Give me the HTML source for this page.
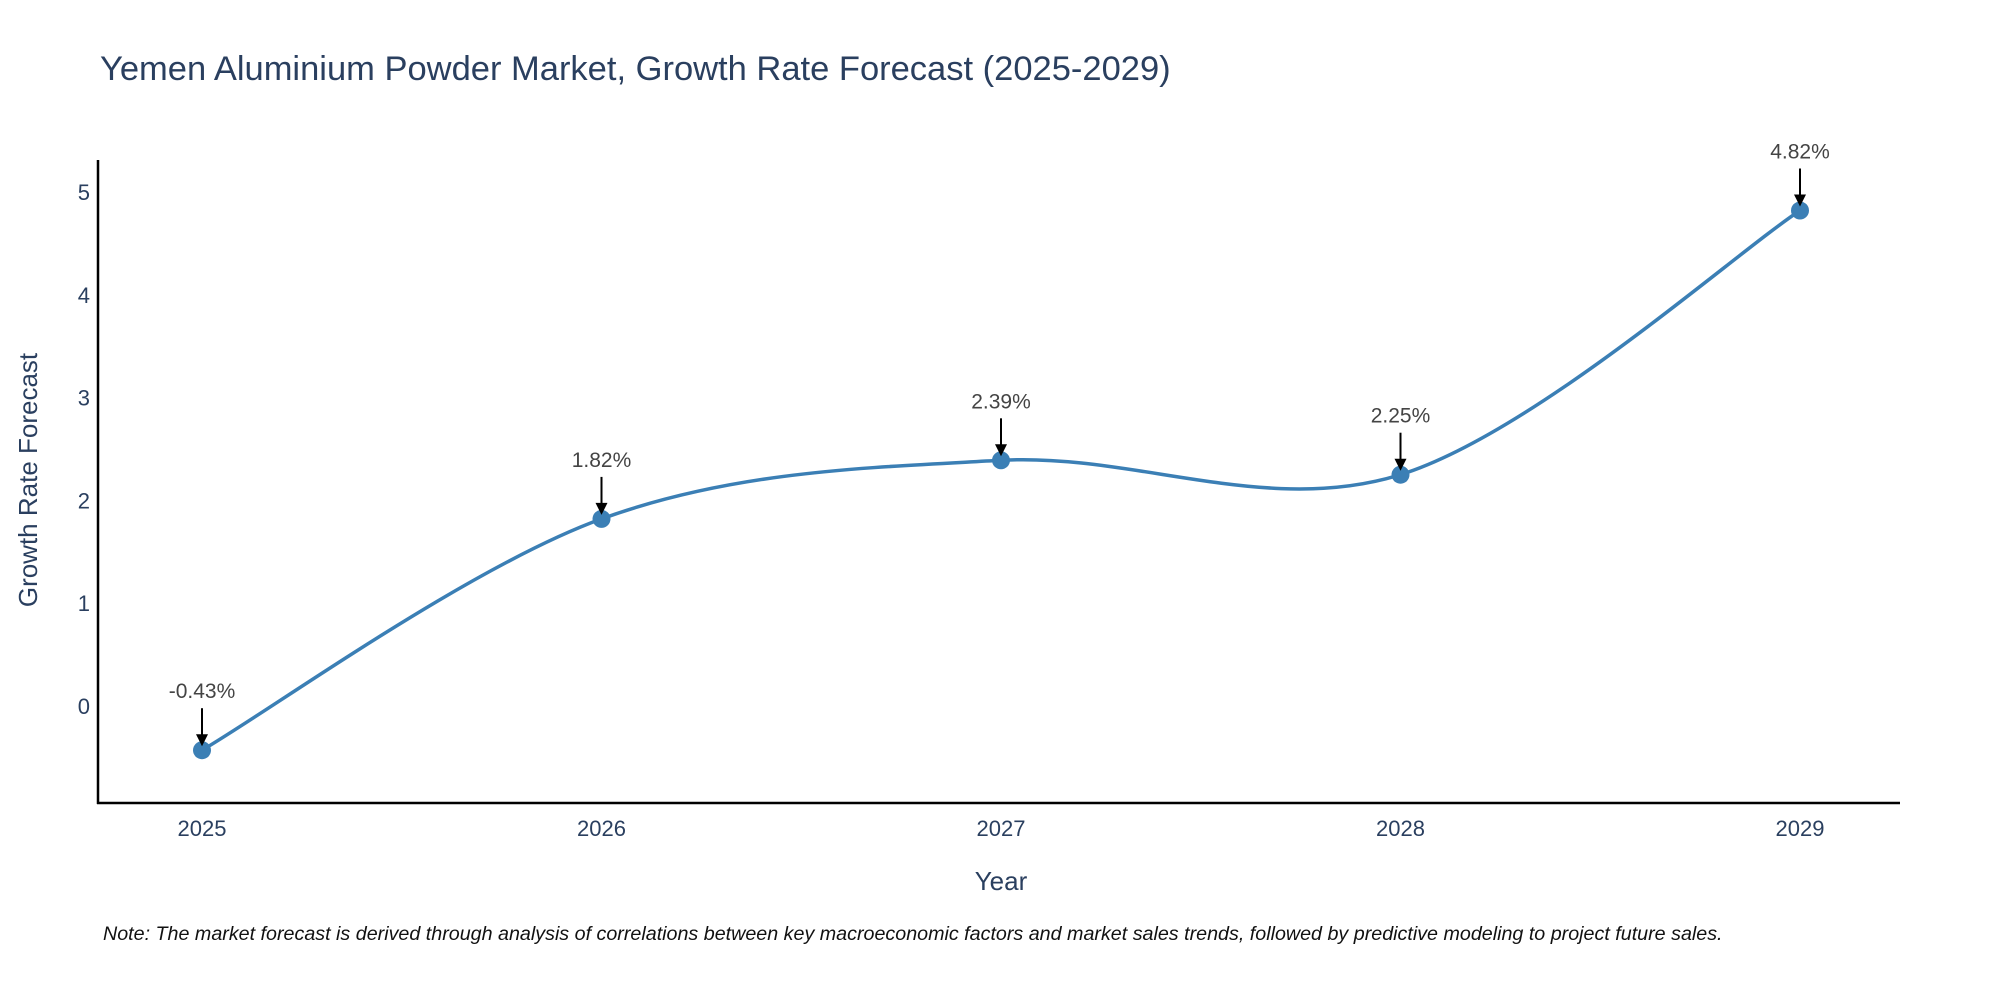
<!DOCTYPE html>
<html><head><meta charset="utf-8"><style>
html,body{margin:0;padding:0;background:#fff;width:2000px;height:1000px;overflow:hidden}
svg text{font-family:"Liberation Sans",sans-serif}
</style></head><body>
<svg id="chart" width="2000" height="1000">
<text x="100" y="80" font-size="34.5" fill="#2a3f5f">Yemen Aluminium Powder Market, Growth Rate Forecast (2025-2029)</text>
<g id="yticks"></g><g id="xticks"></g>
<line x1="98" y1="160" x2="98" y2="804" stroke="#000" stroke-width="2.5"/>
<line x1="97" y1="803" x2="1900" y2="803" stroke="#000" stroke-width="2.5"/>
<path id="line" fill="none" stroke="#3b7fb5" stroke-width="3.5"/>
<g id="marks"></g>
<text x="1001" y="890" font-size="26" fill="#2a3f5f" text-anchor="middle">Year</text>
<text transform="translate(37,480) rotate(-90)" font-size="26" fill="#2a3f5f" text-anchor="middle">Growth Rate Forecast</text>
<text x="103" y="940" font-size="19.7" font-style="italic" fill="#111">Note: The market forecast is derived through analysis of correlations between key macroeconomic factors and market sales trends, followed by predictive modeling to project future sales.</text>
</svg>
<script>
const years=[2025,2026,2027,2028,2029];
const values=[-0.43,1.82,2.39,2.25,4.82];
const labels=["-0.43%","1.82%","2.39%","2.25%","4.82%"];
const yTicks=[0,1,2,3,4,5];
const NS="http://www.w3.org/2000/svg";
const xs=y=>202+(y-2025)*399.5;
const ys=v=>706-v*102.8;
function mk(t,a,p){const e=document.createElementNS(NS,t);for(const k in a)e.setAttribute(k,a[k]);p.appendChild(e);return e;}
const yt=document.getElementById('yticks');
yTicks.forEach(t=>{const e=mk('text',{x:90,y:ys(t)+8,'font-size':22,fill:'#2a3f5f','text-anchor':'end'},yt);e.textContent=t;

});
const xt=document.getElementById('xticks');
years.forEach(y=>{const e=mk('text',{x:xs(y),y:836,'font-size':22,fill:'#2a3f5f','text-anchor':'middle'},xt);e.textContent=y;

});
const P=years.map((y,i)=>[xs(y),ys(values[i])]);
let d=`M${P[0][0]},${P[0][1]}`;
for(let i=0;i<P.length-1;i++){const p0=P[i-1]||P[i],p1=P[i],p2=P[i+1],p3=P[i+2]||P[i+1];const k=1/6;
d+=` C${p1[0]+(p2[0]-p0[0])*k},${p1[1]+(p2[1]-p0[1])*k} ${p2[0]-(p3[0]-p1[0])*k},${p2[1]-(p3[1]-p1[1])*k} ${p2[0]},${p2[1]}`;}
document.getElementById('line').setAttribute('d',d);
const m=document.getElementById('marks');
P.forEach((p,i)=>{
const c=mk('circle',{cx:p[0],cy:p[1],r:9,fill:'#3b7fb5'},m);


const l=mk('line',{x1:p[0],y1:p[1]-42,x2:p[0],y2:p[1]-14,stroke:'#000','stroke-width':2},m);


const h=mk('polygon',{points:`${p[0]-6},${p[1]-16} ${p[0]+6},${p[1]-16} ${p[0]},${p[1]-4}`,fill:'#000'},m);


const t=mk('text',{x:p[0],y:p[1]-52,'font-size':21,fill:'#444','text-anchor':'middle'},m);t.textContent=labels[i];


});
</script>
</body></html>
